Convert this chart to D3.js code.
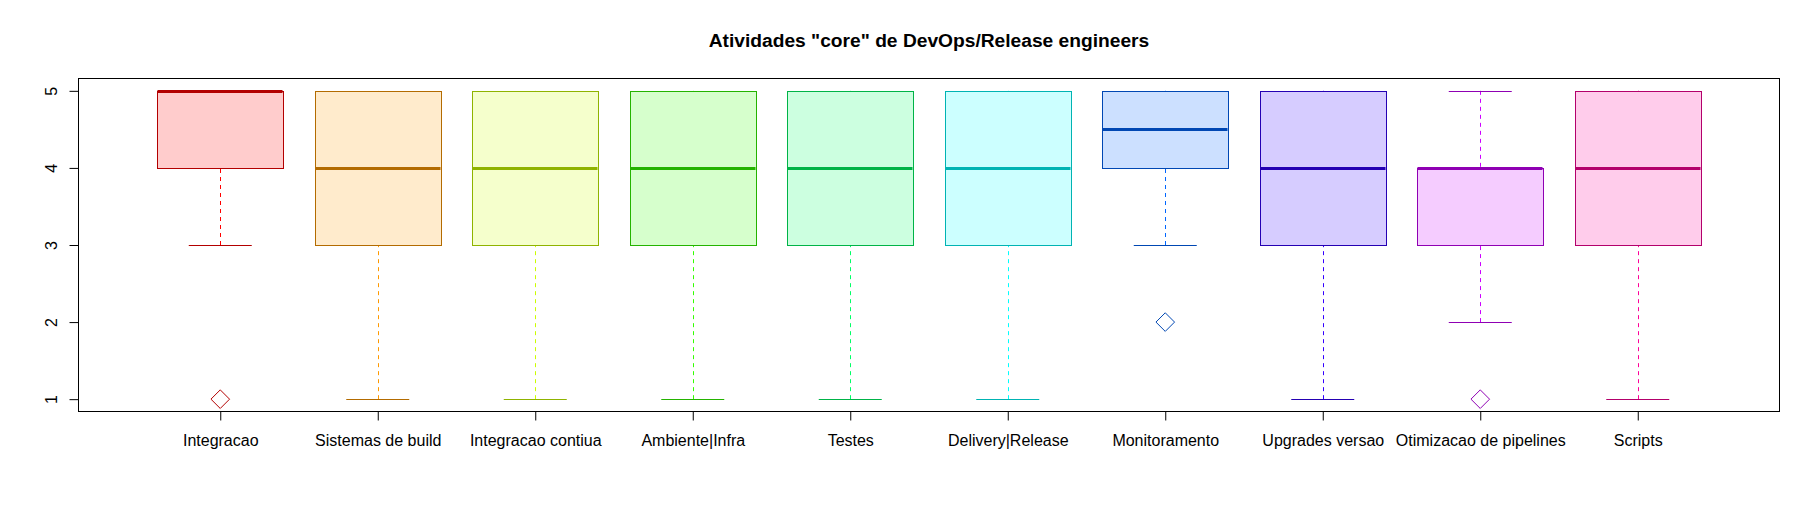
<!DOCTYPE html>
<html>
<head>
<meta charset="utf-8">
<script src="https://cdn.jsdelivr.net/npm/d3@7"></script>
<style>
  html, body { margin: 0; padding: 0; background: #ffffff; }
  svg { display: block; }
  text { font-family: "Liberation Sans", Arial, sans-serif; fill: #000; }
</style>
</head>
<body>
<div id="chart"></div>
<script>
// ---- data ----
const categories = ["Integracao", "Sistemas de build", "Integracao contiua", "Ambiente|Infra", "Testes",
  "Delivery|Release", "Monitoramento", "Upgrades versao", "Otimizacao de pipelines", "Scripts"];
const lowerWhisker = [3, 1, 1, 1, 1, 1, 3, 1, 2, 1];
const q1 = [4, 3, 3, 3, 3, 3, 4, 3, 3, 3];
const medians = [5, 4, 4, 4, 4, 4, 4.5, 4, 4, 4];
const q3 = [5, 5, 5, 5, 5, 5, 5, 5, 4, 5];
const upperWhisker = [5, 5, 5, 5, 5, 5, 5, 5, 5, 5];
const outliers = [
  { cat: "Integracao", value: 1 },
  { cat: "Monitoramento", value: 2 },
  { cat: "Otimizacao de pipelines", value: 1 }
];
const yTicks = [1, 2, 3, 4, 5];
const titleText = 'Atividades "core" de DevOps/Release engineers';

// colours
const brightColors = ["#FF0000", "#FF9900", "#CCFF00", "#33FF00", "#00FF66", "#00FFFF", "#0066FF", "#3300FF", "#CC00FF", "#FF0099"];
const borderColors = ["#B30000", "#B36B00", "#8FB300", "#24B300", "#00B347", "#00B3B3", "#0047B3", "#2400B3", "#8F00B3", "#B3006B"];
const fillColors = ["#FFCCCC", "#FFEBCC", "#F5FFCC", "#D6FFCC", "#CCFFE0", "#CCFFFF", "#CCE0FF", "#D6CCFF", "#F5CCFF", "#FFCCEB"];

(function () {
// ---- layout ----
const W = 1820, H = 509;
const pLeft = 78.5, pRight = 1779.5, pTop = 78.5, pBottom = 411.5;

const svg = d3.select("#chart").append("svg").attr("width", W).attr("height", H);

const x = d3.scaleLinear().domain([0.1, categories.length + 0.9]).range([pLeft, pRight]);
const y = d3.scaleLinear().domain([0.84, 5.16]).range([pBottom, pTop]);
const pos = c => x(categories.indexOf(c) + 1);

const boxHalf = 0.4, stapleHalf = 0.2;

const data = categories.map((c, i) => ({
  c, i, lo: lowerWhisker[i], q1: q1[i], med: medians[i], q3: q3[i], hi: upperWhisker[i]
}));

const g = svg.append("g");

data.forEach(d => {
  const cx = x(d.i + 1);
  const wx = Math.round(cx) + 0.5;
  const gb = g.append("g");
  // whiskers (dashed)
  gb.append("line").attr("x1", wx).attr("x2", wx)
    .attr("y1", y(d.lo)).attr("y2", y(d.q1))
    .attr("stroke", brightColors[d.i]).attr("stroke-width", 1).attr("stroke-dasharray", "4,4");
  gb.append("line").attr("x1", wx).attr("x2", wx)
    .attr("y1", y(d.hi)).attr("y2", y(d.q3))
    .attr("stroke", brightColors[d.i]).attr("stroke-width", 1).attr("stroke-dasharray", "4,4");
  // staples
  [[d.lo, d.q1], [d.hi, d.q3]].forEach(([v, q]) => {
    if (v === q) return;
    gb.append("line").attr("x1", x(d.i + 1 - stapleHalf)).attr("x2", x(d.i + 1 + stapleHalf))
      .attr("y1", Math.round(y(v)) + 0.5).attr("y2", Math.round(y(v)) + 0.5)
      .attr("stroke", borderColors[d.i]).attr("stroke-width", 1);
  });
  // box
  const bx0 = Math.round(x(d.i + 1 - boxHalf)) + 0.5, bx1 = Math.round(x(d.i + 1 + boxHalf)) + 0.5;
  const by0 = Math.round(y(d.q3)) + 0.5, by1 = Math.round(y(d.q1)) + 0.5;
  gb.append("rect").attr("x", bx0).attr("y", by0).attr("width", bx1 - bx0).attr("height", by1 - by0)
    .attr("fill", fillColors[d.i]).attr("stroke", borderColors[d.i]).attr("stroke-width", 1);
  // median
  gb.append("line").attr("x1", bx0).attr("x2", bx1 - 1)
    .attr("y1", Math.round(y(d.med)) + 0.5).attr("y2", Math.round(y(d.med)) + 0.5)
    .attr("stroke", borderColors[d.i]).attr("stroke-width", 3);
});

// outliers (diamonds)
const dsize = 9.3;
g.selectAll("path.out").data(outliers).enter().append("path")
  .attr("class", "out")
  .attr("d", d => {
    const cx = pos(d.cat), cy = y(d.value);
    return `M${cx},${cy - dsize}L${cx + dsize},${cy}L${cx},${cy + dsize}L${cx - dsize},${cy}Z`;
  })
  .attr("fill", "none")
  .attr("stroke", d => borderColors[categories.indexOf(d.cat)])
  .attr("stroke-width", 1);

// frame
svg.append("rect").attr("x", pLeft).attr("y", pTop).attr("width", pRight - pLeft).attr("height", pBottom - pTop)
  .attr("fill", "none").attr("stroke", "#000").attr("stroke-width", 1);

// x axis
const xAxis = d3.axisBottom(x).tickValues(d3.range(1, categories.length + 1))
  .tickFormat(v => categories[v - 1]).tickSize(9);
const gx = svg.append("g").attr("transform", `translate(0,${pBottom})`).call(xAxis);
gx.select(".domain").remove();
gx.selectAll(".tick line").attr("stroke", "#000");
gx.selectAll(".tick text").attr("font-size", "16px").attr("dy", null).attr("y", 34.5)
  .style("font-family", '"Liberation Sans", Arial, sans-serif').attr("fill", "#000");

// y axis
const yAxis = d3.axisLeft(y).tickValues(yTicks).tickFormat(d3.format("d")).tickSize(9);
const gy = svg.append("g").attr("transform", `translate(${pLeft},0)`).call(yAxis);
gy.select(".domain").remove();
gy.selectAll(".tick line").attr("stroke", "#000");
gy.selectAll(".tick text")
  .attr("x", null).attr("dy", null).attr("text-anchor", "middle")
  .attr("transform", `translate(${56.5 - pLeft},0) rotate(-90)`)
  .attr("font-size", "16px")
  .style("font-family", '"Liberation Sans", Arial, sans-serif').attr("fill", "#000");

// title
svg.append("text").attr("x", (pLeft + pRight) / 2).attr("y", 47)
  .attr("text-anchor", "middle").attr("font-size", "19.2px").attr("font-weight", "bold")
  .text(titleText);
})();
</script>
</body>
</html>
